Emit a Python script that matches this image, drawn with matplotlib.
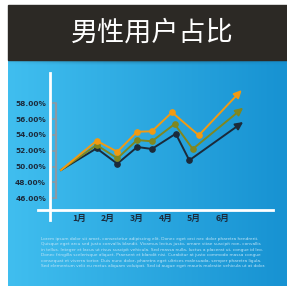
import numpy as np
import matplotlib
matplotlib.use('Agg')
from matplotlib import pyplot as plt

plt.rcParams['font.family'] = ['Noto Sans CJK SC', 'DejaVu Sans']

title = '男性用户占比'
months = ['1月', '2月', '3月', '4月', '5月', '6月']
y_ticks = [46, 48, 50, 52, 54, 56, 58]

# x in month units, y in percent
dark_x = [0.375, 1.61, 2.33, 3.02, 3.53, 4.36, 4.83, 6.70]
dark_y = [49.57, 52.31, 50.37, 52.48, 52.23, 54.16, 50.80, 55.64]
olive_x = [0.375, 1.61, 2.33, 3.02, 3.53, 4.32, 4.95, 6.70]
olive_y = [49.57, 52.73, 51.05, 53.36, 53.20, 55.38, 52.23, 57.44]
orange_x = [0.375, 1.61, 2.33, 3.02, 3.53, 4.23, 5.16, 6.65]
orange_y = [49.57, 53.27, 51.88, 54.41, 54.46, 56.86, 53.96, 59.68]

lorem = [
    'Lorem ipsum dolor sit amet, consectetur adipiscing elit. Donec eget orci nec dolor pharetra hendrerit.',
    'Quisque eget arcu sed justo convallis blandit. Vivamus lectus justo, ornare vitae suscipit non, convallis',
    'in tellus. Integer et lacus ut risus suscipit vehicula. Sed massa nulla, luctus a placerat ut, congue id leo.',
    'Donec fringilla scelerisque aliquet. Praesent et blandit nisi. Curabitur at justo commodo massa congue',
    'consequat et viverra tortor. Duis nunc dolor, pharetra eget ultrices malesuada, semper pharetra ligula.',
    'Sed elementum velit eu metus aliquam volutpat. Sed id augue eget mauris molestie vehicula ut at dolor.',
]

W = 287
fig = plt.figure(figsize=(2.87, 2.87), dpi=100)
fig.patch.set_facecolor('white')

# background in pixel coords
bg = fig.add_axes([0, 0, 1, 1])
bg.set_xlim(0, W)
bg.set_ylim(W, 0)
bg.axis('off')

c1 = np.array([0x40, 0xbe, 0xef]) / 255
c2 = np.array([0x17, 0x92, 0xd2]) / 255
t = np.linspace(0, 1, 200)
grad = c1[None, :] * (1 - t[:, None]) + c2[None, :] * t[:, None]
bg.imshow(grad[None, :, :], extent=[8, 287, 286, 60], aspect='auto', zorder=1)

# shadow under header
sh = np.zeros((20, 200, 4))
sh[..., :3] = 0.05
xs = np.linspace(0, 1, 200)
ys = np.linspace(1, 0, 20)
sh[..., 3] = 0.4 * ys[:, None] ** 2 * np.clip(np.sin(np.pi * (xs * 0.9 + 0.05)), 0, 1)[None, :]
bg.imshow(sh, extent=[8, 287, 66, 60], aspect='auto', zorder=2)

bg.add_patch(plt.Rectangle((8, 5), 279, 55, color='#2c2925', zorder=3))
bg.text(152.5, 33, title, color='white', fontsize=19.5, ha='center', va='center', zorder=4)

for i, line in enumerate(lorem):
    bg.text(41, 239 + i * 5.4, line, color='#bfe4f7', fontsize=3.05,
            family='DejaVu Sans', ha='left', va='center', zorder=4)

# chart axes: px 38..273 horizontally, 73..210 vertically
ax = fig.add_axes([38 / W, 1 - 210 / W, (273 - 38) / W, (210 - 73) / W])
ax.patch.set_alpha(0)
ax.set_xlim(-0.424, 7.736)
ax.set_ylim(44.52, 61.83)

for s in ['top', 'right', 'left']:
    ax.spines[s].set_visible(False)
ax.spines['bottom'].set_color('white')
ax.spines['bottom'].set_linewidth(2)

ax.set_yticks(y_ticks)
ax.set_yticklabels(['%.2f%%' % v for v in y_ticks], family='DejaVu Sans',
                   fontweight='bold', fontsize=5.3, color='#1c2b3c')
ax.tick_params(axis='y', length=0, pad=-5.8)
ax.set_xticks(range(1, 7))
ax.set_xticklabels(months, fontweight='bold', fontsize=6.3, color='#1c2b3c')
ax.tick_params(axis='x', length=0, pad=3)

# grey bracket next to the labels
bx = 0.19
ax.plot([bx, bx], [45.9, 58], color='#8d99a3', lw=1.6, zorder=4, solid_capstyle='butt')
for v in y_ticks:
    ax.plot([bx - 0.1, bx], [v, v], color='#8d99a3', lw=1.2, zorder=4)

ax.plot([0, 0], [43.2, 61.83], color='white', lw=2, clip_on=False, zorder=5)

series = [(dark_x, dark_y, '#1b2a3a'), (olive_x, olive_y, '#80871f'),
          (orange_x, orange_y, '#f29a12')]
for xs_, ys_, col in series:
    n = len(xs_)
    ax.plot(xs_[:-1], ys_[:-1], color=col, lw=1.4, marker='o', markersize=3.8,
            markevery=list(range(1, n - 1)), zorder=6, clip_on=False)
    ax.annotate('', xy=(xs_[-1], ys_[-1]), xytext=(xs_[-2], ys_[-2]),
                arrowprops=dict(arrowstyle='-|>,head_length=0.45,head_width=0.22',
                                color=col, lw=1.4, shrinkA=0, shrinkB=0), zorder=6)

plt.savefig('out.png', dpi=100)
plt.close()
